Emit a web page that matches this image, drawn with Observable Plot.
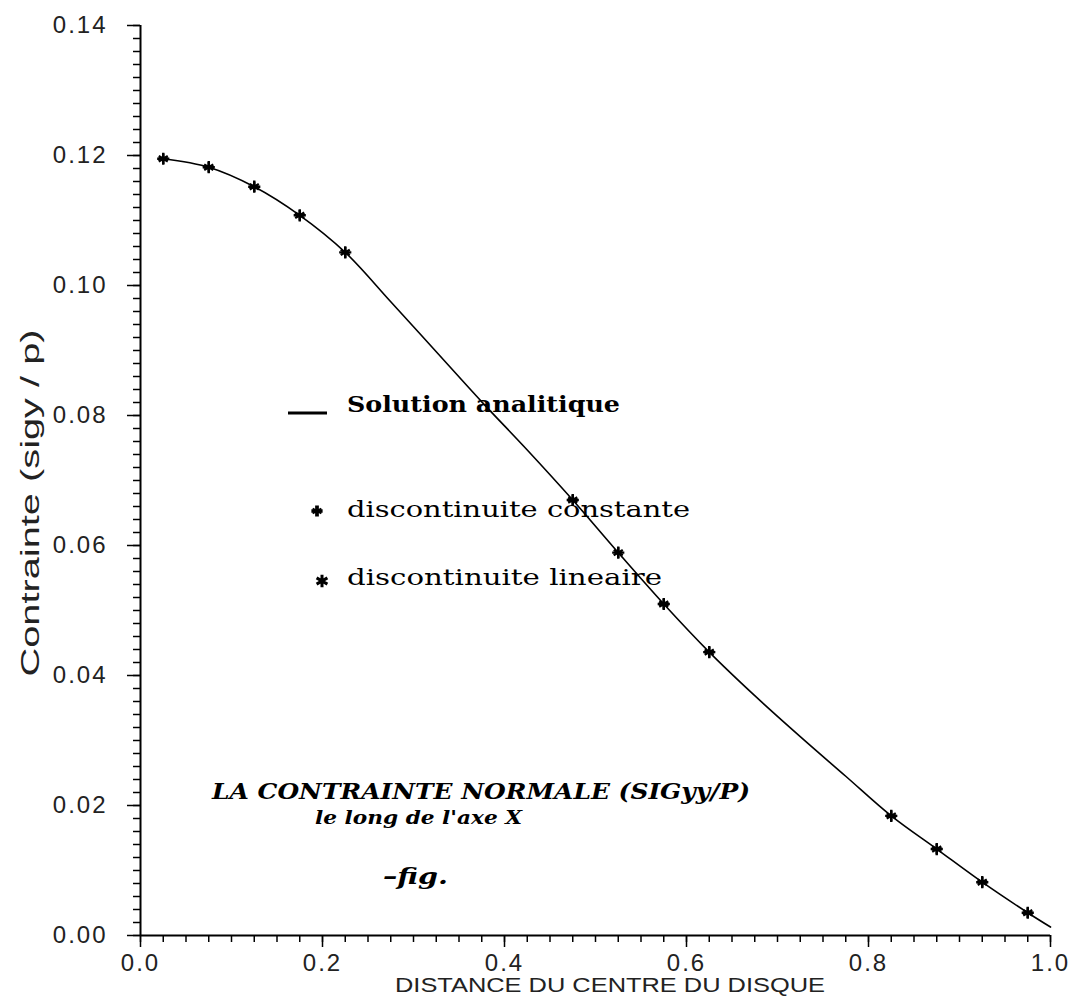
<!DOCTYPE html>
<html><head><meta charset="utf-8">
<script src="https://cdn.jsdelivr.net/npm/d3@7"></script>
<script src="https://cdn.jsdelivr.net/npm/@observablehq/plot@0.6"></script>
<style>body{margin:0;background:#fff} svg{display:block}</style>
</head><body><div id="chart"></div>
<script>
// Analytic solution
const curveX = [0.025, 0.075, 0.125, 0.175, 0.225, 0.275, 0.325, 0.375, 0.425, 0.475, 0.525, 0.575, 0.625, 0.675, 0.725, 0.775, 0.825, 0.875, 0.925, 0.975, 1.0];
const curveY = [0.1195, 0.1182, 0.1152, 0.1108, 0.1051, 0.0975, 0.0898, 0.0821, 0.0747, 0.0670, 0.0589, 0.0510, 0.0436, 0.0369, 0.0306, 0.0245, 0.0184, 0.0133, 0.0082, 0.0035, 0.0013];
// Numerical results (discontinuite constante / lineaire) — coincide in the picture
const markX = [0.025, 0.075, 0.125, 0.175, 0.225, 0.475, 0.525, 0.575, 0.625, 0.825, 0.875, 0.925, 0.975];
const markY = [0.1195, 0.1182, 0.1152, 0.1108, 0.1051, 0.0670, 0.0589, 0.0510, 0.0436, 0.0184, 0.0133, 0.0082, 0.0035];
const xTicks = [0, 0.2, 0.4, 0.6, 0.8, 1.0];
const yTicks = [0, 0.02, 0.04, 0.06, 0.08, 0.10, 0.12, 0.14];
const xMinor = d3.range(0, 1.0001, 0.025);
const yMinor = d3.range(0, 0.14001, 0.002);
const legendLabels = ["Solution analitique", "discontinuite constante", "discontinuite lineaire"];
const titleLines = ["LA CONTRAINTE NORMALE (SIGyy/P)", "le long de l'axe X", "\u2013fig."];
const xLabel = "DISTANCE DU CENTRE DU DISQUE";
const yLabel = "Contrainte (sigy / p)";

const curve = curveX.map((x, i) => ({x, y: curveY[i]}));
const marks = markX.map((x, i) => ({x, y: markY[i]}));

const plot = Plot.plot({
  width: 1074, height: 1002,
  marginLeft: 140, marginRight: 24, marginTop: 25, marginBottom: 67,
  style: {fontFamily: "Liberation Sans, Arial, sans-serif", background: "#fff", color: "#000"},
  x: {domain: [0, 1]},
  y: {domain: [0, 0.14]},
  marks: [
    Plot.axisY(yMinor, {tickSize: 7, tickFormat: () => "", label: null, strokeWidth: 1.5}),
    Plot.axisY(yTicks, {tickSize: 13, tickPadding: 20, tickFormat: d3.format(".2f"), label: null, fontSize: 24, strokeWidth: 1.5, fill: "#222"}),
    Plot.axisX(xMinor, {tickSize: 7, tickFormat: () => "", label: null, strokeWidth: 1.5}),
    Plot.axisX(xTicks, {tickSize: 12, tickPadding: 6, tickFormat: d3.format(".1f"), label: null, fontSize: 24, strokeWidth: 1.5, fill: "#222"}),
    Plot.ruleX([0], {y1: 0, y2: 0.14, stroke: "#000", strokeWidth: 2}),
    Plot.ruleY([0], {x1: 0, x2: 1, stroke: "#000", strokeWidth: 2}),
    Plot.line(curve, {x: "x", y: "y", curve: "catmull-rom", stroke: "#000", strokeWidth: 1.6}),
    Plot.dot(marks, {x: "x", y: "y", symbol: "asterisk", r: 5, stroke: "#000", strokeWidth: 2.4}),
    Plot.dot(marks, {x: "x", y: "y", symbol: "plus", r: 4, stroke: "#000", strokeWidth: 2.4})
  ]
});
document.getElementById("chart").appendChild(plot);

const svg = d3.select(plot);
// wider plotter-like spacing on tick labels
svg.selectAll("g[aria-label='y-axis tick label'] text, g[aria-label='x-axis tick label'] text").attr("letter-spacing", "2px");

function addText(str, x, y, opts) {
  const t = svg.append("text").attr("x", x).attr("y", y).text(str)
    .attr("font-family", opts.family || "DejaVu Serif, serif")
    .attr("font-size", opts.size)
    .attr("fill", opts.fill || "#000")
    .attr("text-anchor", opts.anchor || "start");
  if (opts.weight) t.attr("font-weight", opts.weight);
  if (opts.style) t.attr("font-style", opts.style);
  if (opts.len) t.attr("textLength", opts.len).attr("lengthAdjust", "spacingAndGlyphs");
  if (opts.transform) t.attr("transform", opts.transform);
  return t;
}
// axis titles
addText(xLabel, 610, 992, {family: "Liberation Sans, sans-serif", size: 20, anchor: "middle", len: 430, fill: "#222"});
addText(yLabel, 0, 0, {family: "Liberation Sans, sans-serif", size: 26, anchor: "middle", len: 347, fill: "#222", transform: "translate(39,503) rotate(-90)"});
// legend
svg.append("line").attr("x1", 288).attr("x2", 327).attr("y1", 413).attr("y2", 413).attr("stroke", "#000").attr("stroke-width", 3);
addText(legendLabels[0], 347, 412, {size: 22, weight: "bold", len: 273});
svg.append("path").attr("d", d3.symbol(d3.symbolCross, 70)()).attr("transform", "translate(317,511)").attr("fill", "#000");
svg.append("path").attr("d", d3.symbol(d3.symbolAsterisk, 70)()).attr("transform", "translate(317,511)").attr("stroke", "#000").attr("stroke-width", 2);
addText(legendLabels[1], 347, 517, {size: 22, len: 343});
svg.append("path").attr("d", d3.symbol(d3.symbolAsterisk, 110)()).attr("transform", "translate(322,581)").attr("stroke", "#000").attr("stroke-width", 3);
addText(legendLabels[2], 347, 585, {size: 22, len: 315});
// annotation
addText(titleLines[0], 212, 799, {size: 23, weight: "bold", style: "italic", len: 538});
addText(titleLines[1], 315, 824, {size: 19, weight: "bold", style: "italic", len: 207});
addText(titleLines[2], 383, 884, {size: 22, weight: "bold", style: "italic", len: 65});
</script></body></html>
